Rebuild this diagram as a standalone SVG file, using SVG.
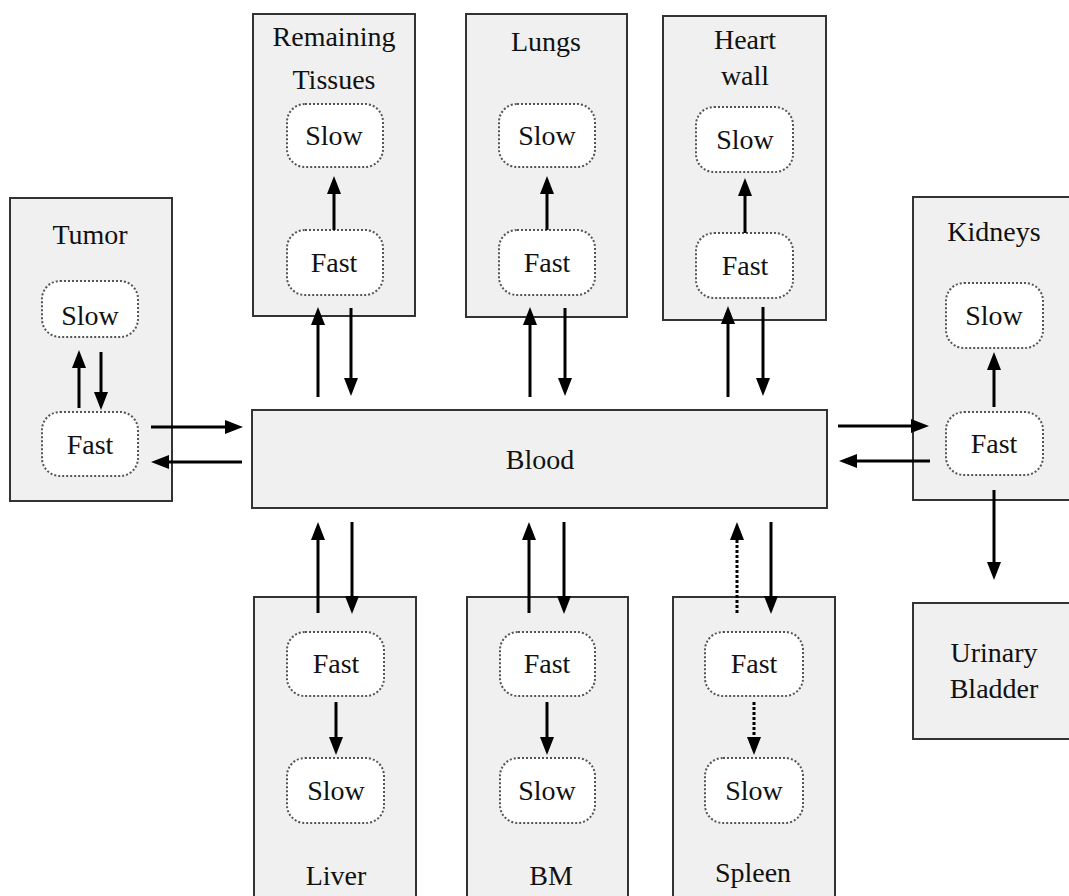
<svg xmlns="http://www.w3.org/2000/svg" width="1069" height="896" viewBox="0 0 1069 896">
<defs>
<style>
.box{fill:#f0f0f0;stroke:#333;stroke-width:2}
.pill{fill:#fff;stroke:#555;stroke-width:2;stroke-dasharray:2,2}
text{font-family:"Liberation Serif","Times New Roman",serif;font-size:28px;fill:#111;text-anchor:middle}
.a{stroke:#000;stroke-width:3;fill:none;marker-end:url(#ah)}
.d{stroke-dasharray:3,2}
</style>
<marker id="ah" markerUnits="userSpaceOnUse" markerWidth="18" markerHeight="15" refX="4" refY="7.5" orient="auto">
<path d="M0,0.5 L18,7.5 L0,14.5 z" fill="#000"/>
</marker>
</defs>
<rect width="1069" height="896" fill="#fff"/>

<g id="tumor">
<rect class="box" x="10" y="198" width="162" height="303"/>
<text x="90" y="244">Tumor</text>
<rect class="pill" x="42" y="281" width="96" height="56" rx="18"/>
<text x="90" y="325">Slow</text>
<rect class="pill" x="42" y="412" width="96" height="64" rx="18"/>
<text x="90" y="454">Fast</text>
</g>

<g id="remaining">
<rect class="box" x="253" y="14" width="162" height="302"/>
<text x="334" y="46">Remaining</text>
<text x="334" y="89">Tissues</text>
<rect class="pill" x="287" y="104" width="96" height="63" rx="18"/>
<text x="334" y="145">Slow</text>
<rect class="pill" x="287" y="230" width="96" height="65" rx="18"/>
<text x="334" y="272">Fast</text>
</g>

<g id="lungs">
<rect class="box" x="466" y="14" width="161" height="303"/>
<text x="546" y="51">Lungs</text>
<rect class="pill" x="499" y="104" width="96" height="63" rx="18"/>
<text x="547" y="145">Slow</text>
<rect class="pill" x="499" y="230" width="96" height="65" rx="18"/>
<text x="547" y="272">Fast</text>
</g>

<g id="heart">
<rect class="box" x="663" y="16" width="163" height="304"/>
<text x="745" y="49">Heart</text>
<text x="745" y="85">wall</text>
<rect class="pill" x="696" y="107" width="97" height="65" rx="18"/>
<text x="745" y="149">Slow</text>
<rect class="pill" x="696" y="233" width="97" height="65" rx="18"/>
<text x="745" y="275">Fast</text>
</g>

<g id="kidneys">
<rect class="box" x="913" y="197" width="170" height="303"/>
<text x="994" y="241">Kidneys</text>
<rect class="pill" x="946" y="283" width="97" height="65" rx="18"/>
<text x="994" y="325">Slow</text>
<rect class="pill" x="946" y="412" width="97" height="63" rx="18"/>
<text x="994" y="453">Fast</text>
</g>

<g id="blood">
<rect class="box" x="252" y="410" width="575" height="98"/>
<text x="540" y="469">Blood</text>
</g>

<g id="bladder">
<rect class="box" x="913" y="603" width="170" height="136"/>
<text x="994" y="662">Urinary</text>
<text x="994" y="698">Bladder</text>
</g>

<g id="liver">
<rect class="box" x="254" y="597" width="162" height="310"/>
<rect class="pill" x="287" y="632" width="97" height="64" rx="18"/>
<text x="336" y="673">Fast</text>
<rect class="pill" x="287" y="758" width="97" height="65" rx="18"/>
<text x="336" y="800">Slow</text>
<text x="336" y="885">Liver</text>
</g>

<g id="bm">
<rect class="box" x="467" y="597" width="161" height="310"/>
<rect class="pill" x="500" y="632" width="95" height="64" rx="18"/>
<text x="547" y="673">Fast</text>
<rect class="pill" x="500" y="758" width="95" height="65" rx="18"/>
<text x="547" y="800">Slow</text>
<text x="551" y="885">BM</text>
</g>

<g id="spleen">
<rect class="box" x="673" y="597" width="162" height="310"/>
<rect class="pill" x="705" y="632" width="98" height="64" rx="18"/>
<text x="754" y="673">Fast</text>
<rect class="pill" x="705" y="758" width="98" height="65" rx="18"/>
<text x="754" y="800">Slow</text>
<text x="753" y="882">Spleen</text>
</g>

<g id="connectors">
<line class="a" x1="79" y1="408" x2="79" y2="364"/>
<line class="a" x1="101" y1="352" x2="101" y2="396"/>
<line class="a" x1="151" y1="427" x2="229" y2="427"/>
<line class="a" x1="242" y1="462" x2="165" y2="462"/>

<line class="a" x1="334" y1="230" x2="334" y2="190"/>
<line class="a" x1="318" y1="397" x2="318" y2="321"/>
<line class="a" x1="351" y1="308" x2="351" y2="382"/>

<line class="a" x1="547" y1="230" x2="547" y2="190"/>
<line class="a" x1="530" y1="397" x2="530" y2="321"/>
<line class="a" x1="565" y1="308" x2="565" y2="382"/>

<line class="a" x1="745" y1="233" x2="745" y2="192"/>
<line class="a" x1="728" y1="397" x2="728" y2="320"/>
<line class="a" x1="763" y1="307" x2="763" y2="382"/>

<line class="a" x1="994" y1="407" x2="994" y2="366"/>
<line class="a" x1="838" y1="426" x2="915" y2="426"/>
<line class="a" x1="930" y1="461" x2="853" y2="461"/>
<line class="a" x1="994" y1="490" x2="994" y2="566"/>

<line class="a" x1="318" y1="613" x2="318" y2="536"/>
<line class="a" x1="352" y1="522" x2="352" y2="600"/>
<line class="a" x1="336" y1="702" x2="336" y2="741"/>

<line class="a" x1="529" y1="613" x2="529" y2="536"/>
<line class="a" x1="564" y1="522" x2="564" y2="600"/>
<line class="a" x1="547" y1="702" x2="547" y2="741"/>

<line class="a d" x1="737" y1="613" x2="737" y2="536"/>
<line class="a" x1="771" y1="522" x2="771" y2="600"/>
<line class="a d" x1="754" y1="702" x2="754" y2="741"/>
</g>
</svg>
